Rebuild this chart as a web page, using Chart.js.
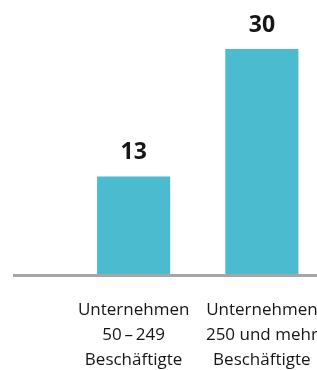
<!DOCTYPE html>
<html>
<head>
<meta charset="utf-8">
<script src="https://cdn.jsdelivr.net/npm/chart.js@4/dist/chart.umd.min.js"></script>
<style>
  html, body { margin: 0; padding: 0; background: #fff; overflow: hidden; }
  #chart { display: block; }
</style>
</head>
<body>
<canvas id="chart" width="326" height="370"></canvas>
<script>
const categories = [
  ["Unternehmen", "50\u2009\u2013\u2009249", "Beschäftigte"],
  ["Unternehmen", "250 und mehr", "Beschäftigte"]
];
const values = [13, 30];

const barColor = "#4bbccf";
const textColor = "#161616";

// value labels above the bars
const valueLabels = {
  id: "valueLabels",
  afterDatasetsDraw(chart) {
    const ctx = chart.ctx;
    const meta = chart.getDatasetMeta(0);
    ctx.save();
    ctx.font = "bold 23px 'Open Sans'";
    ctx.fillStyle = textColor;
    ctx.textAlign = "center";
    ctx.textBaseline = "middle";
    meta.data.forEach((bar, i) => {
      ctx.fillText(String(values[i]), bar.x, bar.y - 24);
    });
    ctx.restore();
  }
};

// grey baseline, runs further left than the plot area
const baseline = {
  id: "baseline",
  afterDatasetsDraw(chart) {
    const ctx = chart.ctx;
    const y = chart.chartArea.bottom + 1.5;
    ctx.save();
    ctx.strokeStyle = "#a6a6a6";
    ctx.lineWidth = 3;
    ctx.beginPath();
    ctx.moveTo(13, y);
    ctx.lineTo(chart.width, y);
    ctx.stroke();
    ctx.restore();
  }
};

new Chart(document.getElementById("chart"), {
  type: "bar",
  data: {
    labels: categories,
    datasets: [{
      data: values,
      backgroundColor: barColor,
      borderWidth: 0,
      barPercentage: 0.57,
      categoryPercentage: 1
    }]
  },
  options: {
    responsive: false,
    animation: false,
    layout: { padding: { left: 69.5, top: 49, right: 0, bottom: 0 } },
    plugins: { legend: { display: false }, tooltip: { enabled: false } },
    scales: {
      x: {
        grid: { display: false, drawTicks: true, tickLength: 23.5 },
        border: { display: false },
        ticks: {
          color: textColor,
          font: { family: "'Open Sans'", size: 17, lineHeight: 25 / 17 },
          padding: 0,
          maxRotation: 0,
          autoSkip: false
        },
        afterFit(scale) { scale.height = 96; }
      },
      y: {
        display: false,
        min: 0,
        max: 30
      }
    }
  },
  plugins: [valueLabels, baseline]
});
</script>
</body>
</html>
